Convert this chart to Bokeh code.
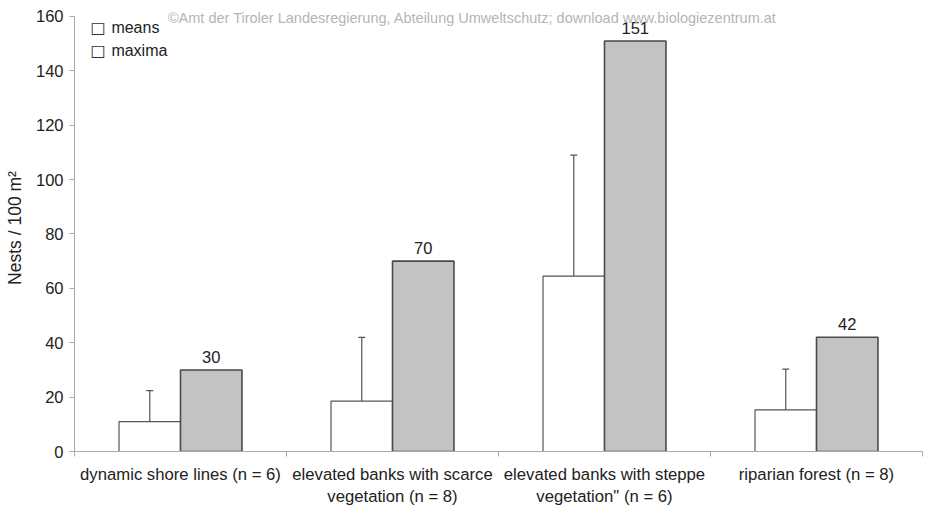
from bokeh.plotting import figure
from bokeh.models import (ColumnDataSource, Range1d, FixedTicker, Whisker, TeeHead,
                          Label, LinearAxis)
from bokeh.core.properties import value
from bokeh.embed import file_html
from bokeh.resources import INLINE

# Nest density per habitat type
habitats = ["dynamic shore lines (n = 6)",
            "elevated banks with scarce\nvegetation (n = 8)",
            "elevated banks with steppe\nvegetation\" (n = 6)",
            "riparian forest (n = 8)"]
means = [11.0, 18.5, 64.5, 15.3]
sd = [11.4, 23.5, 44.5, 15.0]
maxima = [30, 70, 151, 42]
y_ticks = [0, 20, 40, 60, 80, 100, 120, 140, 160]
series_names = ["means", "maxima"]

FONT = "Liberation Sans"
BAR_W = 0.29
DARK = "#222222"

centers = [i + 0.5 for i in range(len(means))]
bounds = list(range(len(means) + 1))
src = ColumnDataSource(dict(
    xm=[c - BAR_W / 2 for c in centers],
    xx=[c + BAR_W / 2 for c in centers],
    mean=means,
    upper=[m + s for m, s in zip(means, sd)],
    maxv=maxima,
    maxlab=[str(v) for v in maxima],
))

p = figure(width=925, height=509, output_backend="svg", toolbar_location=None,
           x_range=Range1d(0, len(means)), y_range=Range1d(0, 164.4),
           min_border_left=74, min_border_right=3, min_border_top=4,
           min_border_bottom=58)
p.outline_line_color = None
p.xgrid.visible = False
p.ygrid.visible = False

p.vbar(x="xm", top="mean", width=BAR_W, source=src,
       fill_color="white", line_color="#555555", line_width=1.2)
p.vbar(x="xx", top="maxv", width=BAR_W, source=src,
       fill_color="#c3c3c3", line_color="#4a4a4a", line_width=1.6)

# upper standard deviation only
p.add_layout(Whisker(source=src, base="xm", lower="mean", upper="upper",
                     line_color="#555555", line_width=1.2,
                     upper_head=TeeHead(size=7, line_color="#555555", line_width=1.2),
                     lower_head=None))

p.text(x="xx", y="maxv", text="maxlab", source=src, text_align="center",
       text_baseline="bottom", y_offset=-7, text_font=value(FONT),
       text_font_size="16.5px", text_color=DARK)

# y axis
yax = p.yaxis[0]
yax.ticker = FixedTicker(ticks=y_ticks)
yax.bounds = (0, 160)
yax.axis_line_color = "#aaaaaa"
yax.major_tick_line_color = "#aaaaaa"
yax.major_tick_out = 5
yax.major_tick_in = 0
yax.minor_tick_line_color = None
yax.major_label_text_font = FONT
yax.major_label_text_font_size = "16.5px"
yax.major_label_text_color = DARK
yax.major_label_standoff = 6
yax.axis_label = "Nests / 100 m²"
yax.axis_label_text_font = FONT
yax.axis_label_text_font_size = "17.5px"
yax.axis_label_text_font_style = "normal"
yax.axis_label_text_color = DARK
yax.axis_label_standoff = 8

# x axis: line with ticks between the habitat groups, unlabelled
xax = p.xaxis[0]
xax.ticker = FixedTicker(ticks=bounds)
xax.axis_line_color = "#aaaaaa"
xax.major_tick_line_color = "#aaaaaa"
xax.major_tick_out = 5
xax.major_tick_in = 0
xax.minor_tick_line_color = None
xax.major_label_standoff = 0
xax.major_label_overrides = {b: "" for b in bounds}

# habitat names centred under each group
cat_axis = LinearAxis(ticker=FixedTicker(ticks=centers),
                      major_label_overrides={c: h for c, h in zip(centers, habitats)},
                      axis_line_color=None, major_tick_line_color=None,
                      minor_tick_line_color=None, major_label_standoff=2,
                      major_label_text_font=FONT, major_label_text_font_size="16.7px",
                      major_label_text_color=DARK, major_label_text_line_height=1.2)
p.add_layout(cat_axis, "below")

# legend drawn as outlined boxes with captions
for name, yv in zip(series_names, [155.95, 147.5]):
    p.add_layout(Label(x=0.111, y=yv, text="□", text_align="center",
                       text_baseline="middle", text_font="DejaVu Sans",
                       text_font_size="16px", text_color="#333333"))
    p.add_layout(Label(x=0.174, y=yv, text=name, text_align="left",
                       text_baseline="middle", text_font=FONT,
                       text_font_size="16px", text_color=DARK))

# copyright line
p.add_layout(Label(x=1.877, y=159.6,
                   text="©Amt der Tiroler Landesregierung, Abteilung Umweltschutz; download www.biologiezentrum.at",
                   text_align="center", text_baseline="middle", text_font=FONT,
                   text_font_size="14.5px", text_color="#b5b5b5"))

open("out.html", "w").write(file_html(p, INLINE))
